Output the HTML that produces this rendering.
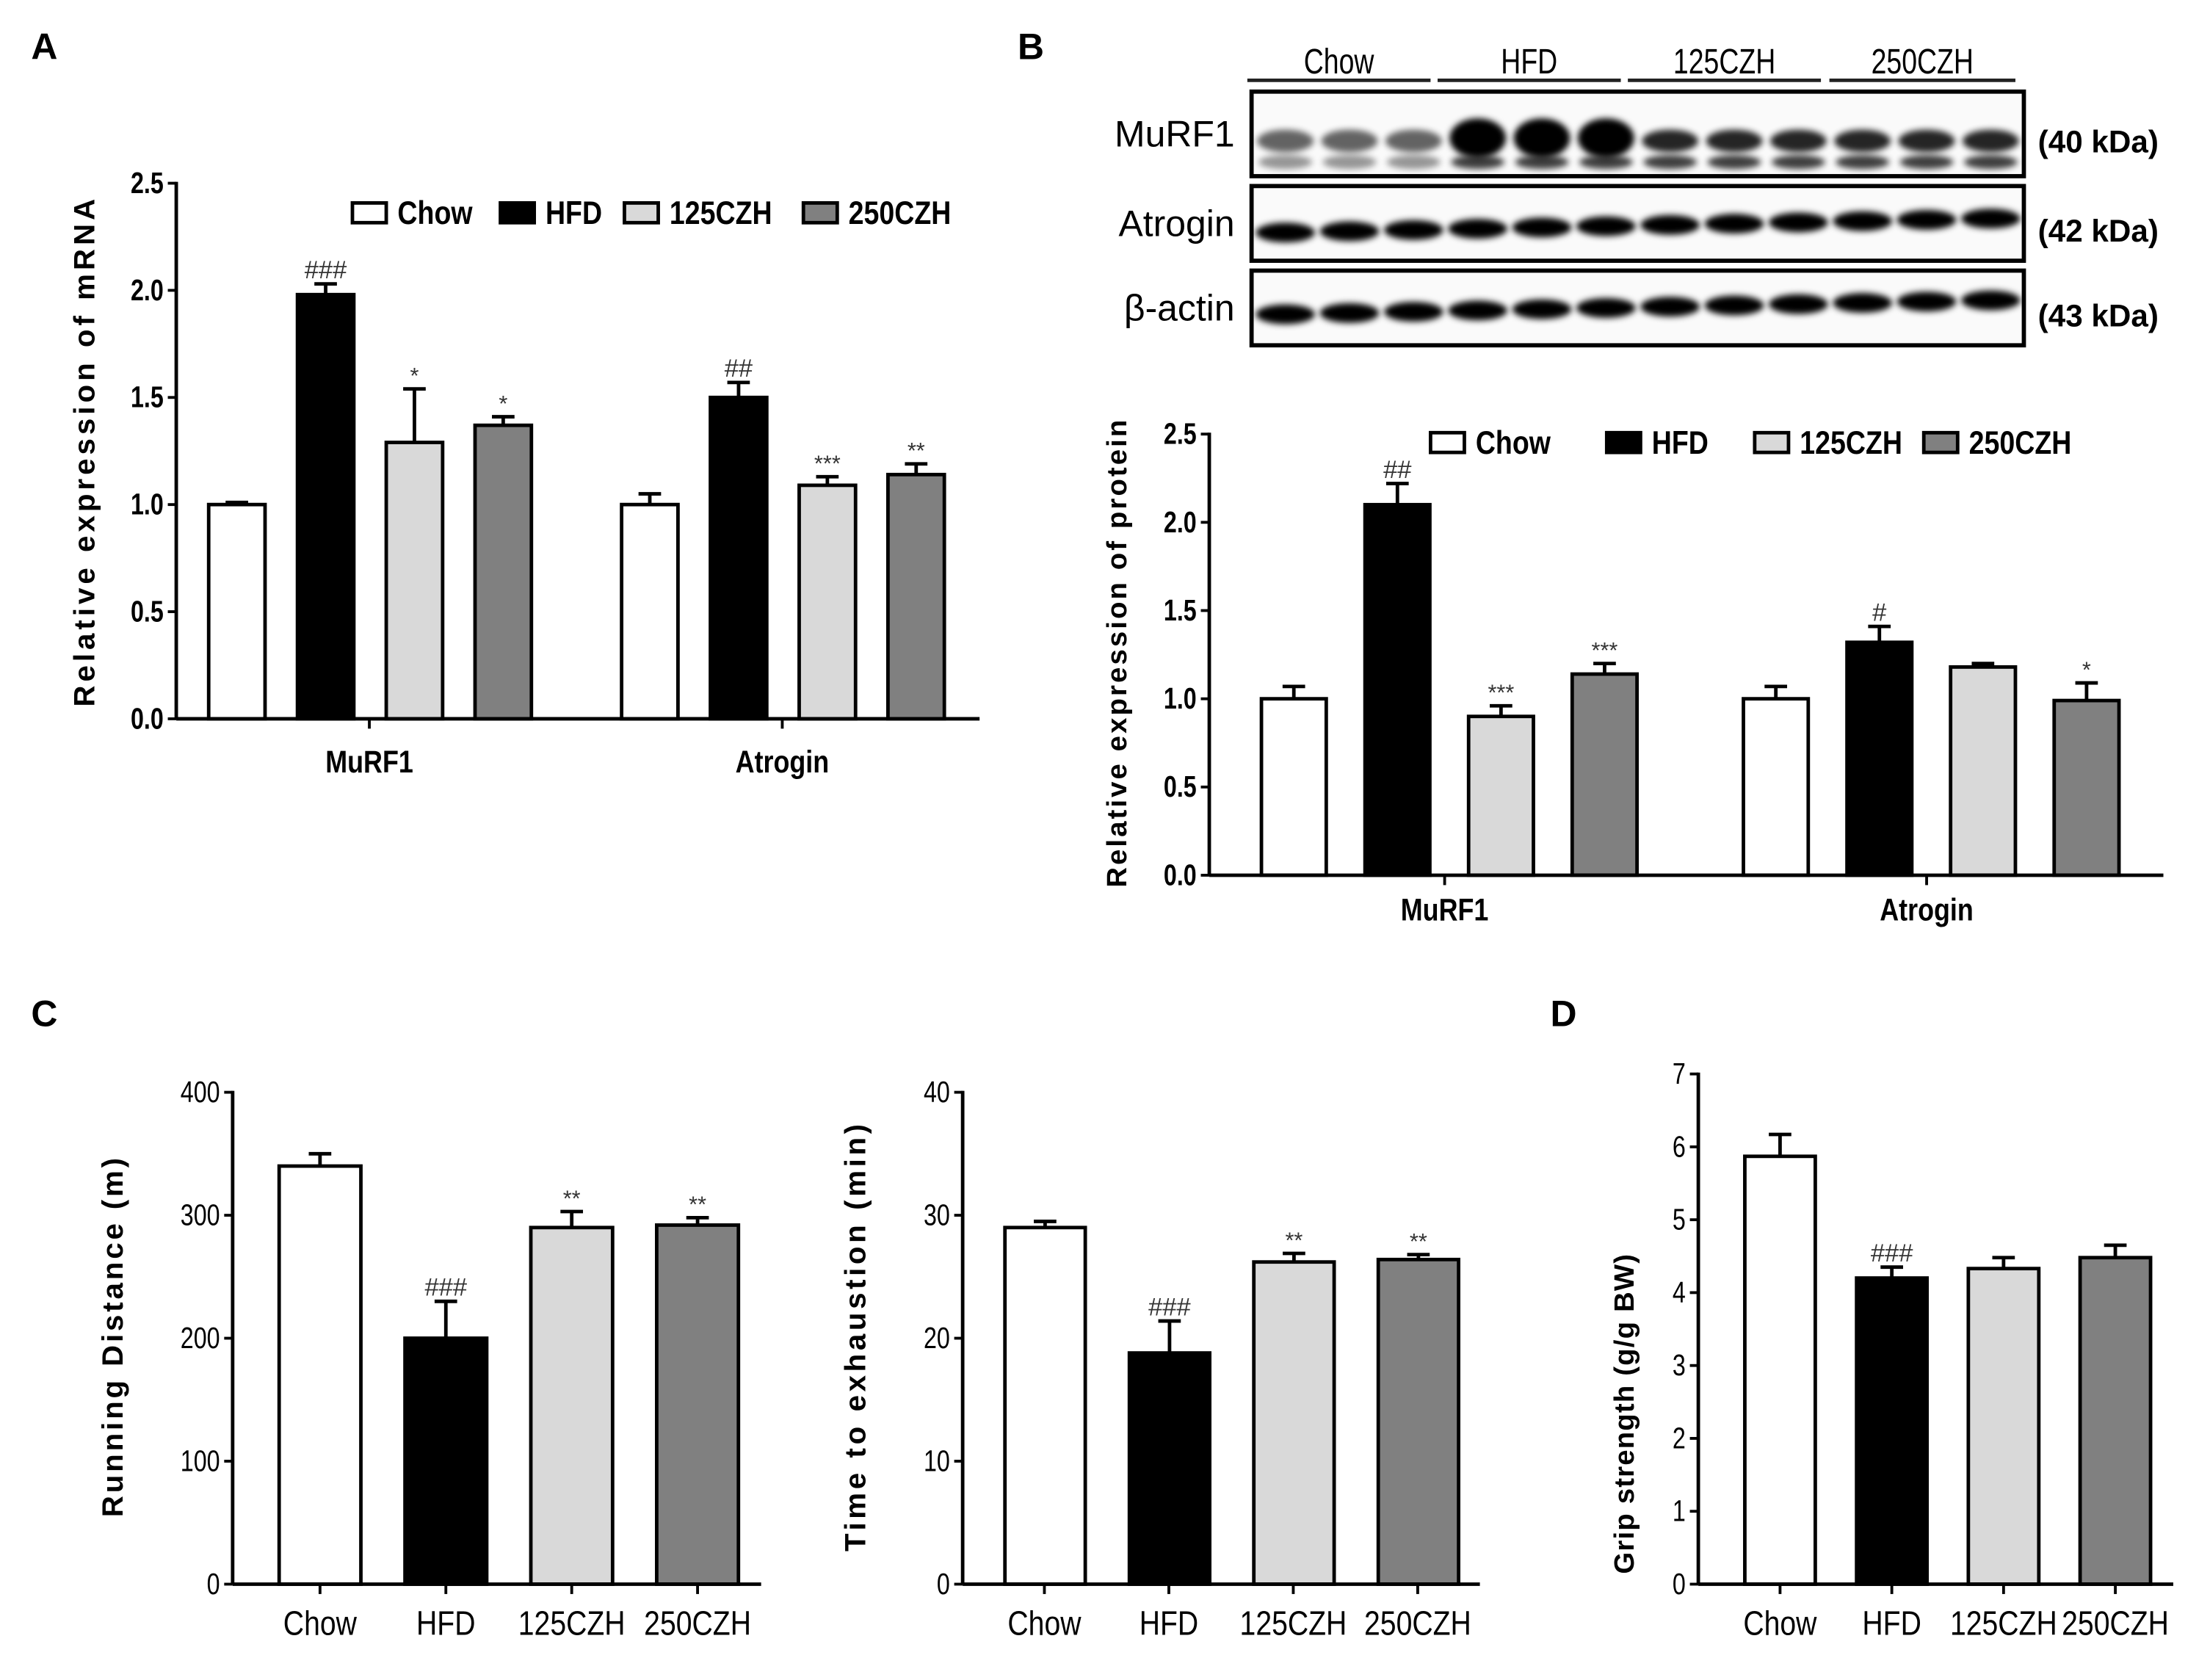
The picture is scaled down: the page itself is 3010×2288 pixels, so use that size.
<!DOCTYPE html>
<html><head><meta charset="utf-8">
<style>
html,body{margin:0;padding:0;background:#fff;}
svg{display:block;}
text{font-family:"Liberation Sans",sans-serif;}
</style></head>
<body>
<svg id="fig" width="3010" height="2288" viewBox="0 0 1568 1192" xmlns="http://www.w3.org/2000/svg">
<defs>
<filter id="blur" x="-20%" y="-50%" width="140%" height="200%"><feGaussianBlur stdDeviation="2.2"/></filter>
</defs>
<g id="root"></g>
</svg>
<script>
// ---------- data ----------
const groups = ["Chow","HFD","125CZH","250CZH"];
const fills = ["#ffffff","#000000","#d9d9d9","#808080"];
const aCats = ["MuRF1","Atrogin"];
const aMuRF1 = [1.0,1.98,1.29,1.37];
const aMuRF1Err = [0.01,0.05,0.25,0.04];
const aAtrogin = [1.0,1.5,1.09,1.14];
const aAtroginErr = [0.05,0.07,0.04,0.05];
const aMuRF1Sig = ["","###","*","*"];
const aAtroginSig = ["","##","***","**"];
const bMuRF1 = [1.0,2.1,0.9,1.14];
const bMuRF1Err = [0.07,0.12,0.06,0.06];
const bAtrogin = [1.0,1.32,1.18,0.99];
const bAtroginErr = [0.07,0.09,0.02,0.1];
const bMuRF1Sig = ["","##","***","***"];
const bAtroginSig = ["","#","","*"];
const ticksAB = ["0.0","0.5","1.0","1.5","2.0","2.5"];
const runDist = [340,200,290,292];
const runDistErr = [10,30,13,6];
const runSig = ["","###","**","**"];
const ticksRun = [0,100,200,300,400];
const timeEx = [29,18.8,26.2,26.4];
const timeExErr = [0.5,2.6,0.7,0.4];
const timeSig = ["","###","**","**"];
const ticksTime = [0,10,20,30,40];
const grip = [5.87,4.2,4.33,4.48];
const gripErr = [0.3,0.15,0.15,0.17];
const gripSig = ["","###","",""];
const ticksGrip = [0,1,2,3,4,5,6,7];

const NS="http://www.w3.org/2000/svg";
const root=document.getElementById('root');
function mk(tag,attrs,parent,txt){const e=document.createElementNS(NS,tag);for(const k in attrs)e.setAttribute(k,attrs[k]);if(txt!==undefined)e.textContent=txt;(parent||root).appendChild(e);return e;}

function chart(o){
  const g=mk('g',{});
  
  
  const y=v=>o.y0-(v-o.vmin)/(o.vmax-o.vmin)*(o.y0-o.y1);
  o.series.forEach((s,ci)=>{
    s.vals.forEach((v,i)=>{
      const x=o.barX[ci]+i*o.step, w=o.bw;
      const top=y(v), et=y(v+s.err[i]);
      const l=mk('line',{x1:x+w/2,x2:x+w/2,y1:top,y2:et,stroke:'#000','stroke-width':2.5},g);
      
      
      mk('line',{x1:x+w/2-8,x2:x+w/2+8,y1:et,y2:et,stroke:'#000','stroke-width':2.5},g);
      const r=mk('rect',{x:x,y:top,width:w,height:o.y0-top,fill:fills[i],stroke:'#000','stroke-width':2.5},g);
      
      
      if(s.sig[i]){
        const t=mk('text',{x:x+w/2,y:et-4,'text-anchor':'middle','font-size':s.sig[i][0]=='#'?18:16,fill:'#333'},g,s.sig[i]);
        
        
      }
    });
  });
  mk('line',{x1:o.ax,x2:o.ax,y1:o.y1-1,y2:o.y0,stroke:'#000','stroke-width':2.5},g);
  mk('line',{x1:o.ax,x2:o.xend,y1:o.y0,y2:o.y0,stroke:'#000','stroke-width':2.5},g);
  o.ticks.forEach(tk=>{
    const v=parseFloat(tk), ty=y(v);
    mk('line',{x1:o.ax-6,x2:o.ax,y1:ty,y2:ty,stroke:'#000','stroke-width':2},g);
    const t=mk('text',{x:o.ax-9,y:ty+7,'text-anchor':'end','font-size':o.tfs||17,'font-weight':o.tbold?'bold':'normal',transform:`translate(${o.ax-9},0) scale(0.8,1) translate(${-(o.ax-9)},0)`},g,String(tk));
    
    
  });
  (o.xlabels||[]).forEach(xl=>{
    if(xl.tick) mk('line',{x1:xl.x,x2:xl.x,y1:o.y0,y2:o.y0+7,stroke:'#000','stroke-width':2},g);
    const t=mk('text',{x:xl.x,y:xl.y,'text-anchor':'middle','font-size':xl.fs||20,'font-weight':xl.bold?'bold':'normal',transform:`translate(${xl.x},0) scale(0.85,1) translate(${-xl.x},0)`},g,xl.t);
    
    
  });
  const yt=mk('text',{x:0,y:0,'text-anchor':'middle','font-size':o.yfs||19,'font-weight':'bold',transform:`translate(${o.ytx},${o.yty}) rotate(-90)`,'letter-spacing':o.yls||0},g,o.ytitle);
  
  
}
function legend(xs,y,fs){
  const g=mk('g',{});
  
  
  groups.forEach((n,i)=>{
    const r=mk('rect',{x:xs[i],y:y-7,width:24,height:14,fill:fills[i],stroke:'#000','stroke-width':2.5},g);
    
    
    const t=mk('text',{x:xs[i]+32,y:y+8,'font-size':fs,'font-weight':'bold',transform:`translate(${xs[i]+32},0) scale(0.85,1) translate(${-(xs[i]+32)},0)`},g,n);
    
    
  });
}

[["A",22,42],["B",722,42],["C",22,728],["D",1100,728]].forEach(p=>{
  const t=mk('text',{x:p[1],y:p[2],'font-size':26,'font-weight':'bold'},root,p[0]);
  
  
});

chart({name:'chart-a-mrna',y0:510,y1:130,vmin:0,vmax:2.5,ax:125,xend:695,bw:40,step:63,barX:[148,441],
 series:[{vals:aMuRF1,err:aMuRF1Err,sig:aMuRF1Sig},{vals:aAtrogin,err:aAtroginErr,sig:aAtroginSig}],
 ticks:ticksAB,tbold:true,tfs:21,
 xlabels:[{x:262,y:548,t:aCats[0],bold:true,tick:true,fs:22},{x:555,y:548,t:aCats[1],bold:true,tick:true,fs:22}],
 ytitle:'Relative expression of mRNA',ytx:67,yty:320,yfs:21,yls:2.6});
legend([250,355,443,570],151,23);

chart({name:'chart-b-protein',y0:621,y1:308,vmin:0,vmax:2.5,ax:858,xend:1535,bw:46,step:73.5,barX:[895,1237],
 series:[{vals:bMuRF1,err:bMuRF1Err,sig:bMuRF1Sig},{vals:bAtrogin,err:bAtroginErr,sig:bAtroginSig}],
 ticks:ticksAB,tbold:true,tfs:21,
 xlabels:[{x:1025,y:653,t:aCats[0],bold:true,tick:true,fs:22},{x:1367,y:653,t:aCats[1],bold:true,tick:true,fs:22}],
 ytitle:'Relative expression of protein',ytx:799,yty:463,yfs:20,yls:1.6});
legend([1015,1140,1245,1365],314,23);

chart({name:'chart-running-distance',y0:1124,y1:775,vmin:0,vmax:400,ax:165,xend:540,bw:58,step:89.3,barX:[198],
 series:[{vals:runDist,err:runDistErr,sig:runSig}],ticks:ticksRun,tfs:21,
 xlabels:groups.map((n,i)=>({x:227+i*89.3,y:1160,t:n,fs:24,tick:true})),
 ytitle:'Running Distance (m)',ytx:87,yty:948,yfs:21,yls:2});
chart({name:'chart-time-to-exhaustion',y0:1124,y1:775,vmin:0,vmax:40,ax:683,xend:1050,bw:57,step:88.3,barX:[713],
 series:[{vals:timeEx,err:timeExErr,sig:timeSig}],ticks:ticksTime,tfs:21,
 xlabels:groups.map((n,i)=>({x:741+i*88.3,y:1160,t:n,fs:24,tick:true})),
 ytitle:'Time to exhaustion (min)',ytx:614,yty:948,yfs:21,yls:2.4});
chart({name:'chart-grip-strength',y0:1124,y1:762,vmin:0,vmax:7,ax:1205,xend:1542,bw:50,step:79.3,barX:[1238],
 series:[{vals:grip,err:gripErr,sig:gripSig}],ticks:ticksGrip,tfs:21,
 xlabels:groups.map((n,i)=>({x:1263+i*79.3,y:1160,t:n,fs:24,tick:true})),
 ytitle:'Grip strength (g/g BW)',ytx:1159,yty:1003,yfs:20,yls:0.6});

(function(){
  const g=mk('g',{});
  
  
  const hdr=[["Chow",885,1015],["HFD",1020,1150],["125CZH",1155,1292],["250CZH",1298,1430]];
  hdr.forEach(h=>{
    mk('line',{x1:h[1],x2:h[2],y1:57,y2:57,stroke:'#222','stroke-width':2.5},g);
    const t=mk('text',{x:(h[1]+h[2])/2,y:52,'text-anchor':'middle','font-size':25,transform:`translate(${(h[1]+h[2])/2},0) scale(0.78,1) translate(${-(h[1]+h[2])/2},0)`},g,h[0]);
    
    
  });
  const rows=[["MuRF1",65,125,"(40 kDa)"],["Atrogin",132,185,"(42 kDa)"],["β-actin",192,245,"(43 kDa)"]];
  rows.forEach((r,ri)=>{
    const box=mk('rect',{x:888,y:r[1],width:548,height:r[2]-r[1],fill:'#fafafa',stroke:'#000','stroke-width':3},g);
    
    
    for(let i=0;i<12;i++){
      const cx=912+i*45.5;
      if(ri==0){
        const dark=(i>=3&&i<=5);
        mk('ellipse',{cx:cx,cy:dark?98:100,rx:20,ry:dark?14:8,fill:'#000',opacity:dark?1:(i<3?0.6:0.85),filter:'url(#blur)'},g);
        mk('ellipse',{cx:cx,cy:115,rx:19,ry:5,fill:'#000',opacity:i<3?0.4:0.75,filter:'url(#blur)'},g);
      } else {
        const cy=(ri==1?165:223)-i*0.9;
        mk('ellipse',{cx:cx,cy:cy,rx:21,ry:7,fill:'#000',filter:'url(#blur)'},g);
      }
    }
    const t=mk('text',{x:876,y:(r[1]+r[2])/2+9,'text-anchor':'end','font-size':26},g,r[0]);
    
    
    const k=mk('text',{x:1446,y:(r[1]+r[2])/2+13,'font-size':22,'font-weight':'bold'},g,r[3]);
    
    
  });
})();
</script>
</body></html>
